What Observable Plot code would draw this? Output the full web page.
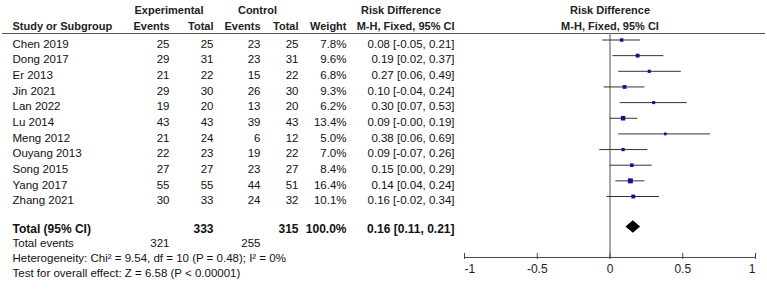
<!DOCTYPE html>
<html>
<head>
<meta charset="utf-8">
<script src="https://cdn.jsdelivr.net/npm/d3@7"></script>
<script src="https://cdn.jsdelivr.net/npm/@observablehq/plot@0.6"></script>
<style>
  html, body { margin: 0; padding: 0; background: #fff; }
</style>
</head>
<body>
<div id="chart"></div>
<script>
// ---- data ----
const studies = ["Chen 2019", "Dong 2017", "Er 2013", "Jin 2021", "Lan 2022", "Lu 2014", "Meng 2012", "Ouyang 2013", "Song 2015", "Yang 2017", "Zhang 2021"];
const expEvents = [25, 29, 21, 29, 19, 43, 21, 22, 27, 55, 30];
const expTotal = [25, 31, 22, 30, 20, 43, 24, 23, 27, 55, 33];
const ctrlEvents = [23, 23, 15, 26, 13, 39, 6, 19, 23, 44, 24];
const ctrlTotal = [25, 31, 22, 30, 20, 43, 12, 22, 27, 51, 32];
const weights = [7.8, 9.6, 6.8, 9.3, 6.2, 13.4, 5.0, 7.0, 8.4, 16.4, 10.1];
const riskDiff = [0.08, 0.19, 0.27, 0.10, 0.30, 0.09, 0.38, 0.09, 0.15, 0.14, 0.16];
const ciLow = [-0.05, 0.02, 0.06, -0.04, 0.07, -0.00, 0.06, -0.07, 0.00, 0.04, -0.02];
const ciHigh = [0.21, 0.37, 0.49, 0.24, 0.53, 0.19, 0.69, 0.26, 0.29, 0.24, 0.34];

const totalLabel = "Total (95% CI)";
const totalExp = 333;
const totalCtrl = 315;
const totalWeight = 100.0;
const totalRD = 0.16;
const totalLow = 0.11;
const totalHigh = 0.21;
const eventsLabel = "Total events";
const eventsExp = 321;
const eventsCtrl = 255;
const heterogeneityText = "Heterogeneity: Chi² = 9.54, df = 10 (P = 0.48); I² = 0%";
const overallText = "Test for overall effect: Z = 6.58 (P < 0.00001)";

const axisTicks = [-1, -0.5, 0, 0.5, 1];
const tickLabels = ["-1", "-0.5", "0", "0.5", "1"];

// ---- layout (rows in row units, columns in pixels) ----
const rowHeader1 = -2.12, rowHeader2 = -1.12, rowLine = -0.67;
const rowTotal = 11.8, rowDiamond = 11.7, rowEvents = 12.75, rowHet = 13.7, rowTest = 14.65;
const rowAxis = 13.64;
const markerDy = -4;
const colStudy = 12, colExpEv = 169, colExpTot = 213, colCtrlEv = 260, colCtrlTot = 298, colWeight = 346, colRD = 454;

const font = "Liberation Sans, Arial, Helvetica, sans-serif";
const txt = "#111";

const fmt2 = v => ((v < 0 || Object.is(v, -0)) ? "-" : "") + Math.abs(v).toFixed(2);
const ciText = (e, l, h) => `${fmt2(e)} [${fmt2(l)}, ${fmt2(h)}]`;

const idx = studies.map((_, i) => i);

function col(data, y, text, x, anchor, extra = {}) {
  return Plot.text(data, {
    y, text, frameAnchor: "left", dx: x, textAnchor: anchor,
    fill: txt, fontSize: 11.5, ...extra
  });
}
const bold = {fontWeight: "bold", fontSize: 12};
const hdr = {fontWeight: "bold", fontSize: 11, fill: "#222"};

const diamondPts = [
  {x: totalLow, y1: rowDiamond, y2: rowDiamond},
  {x: totalRD, y1: rowDiamond - 0.4, y2: rowDiamond + 0.4},
  {x: totalHigh, y1: rowDiamond, y2: rowDiamond}
];

const chart = Plot.plot({
  width: 767,
  height: 289,
  marginLeft: 0, marginRight: 0, marginTop: 0, marginBottom: 0,
  style: {fontFamily: font, background: "#fff"},
  x: {domain: [-1, 1], range: [464, 755], axis: null},
  y: {type: "linear", domain: [0, 1], range: [43.5, 59.15], axis: null},
  r: {type: "sqrt", domain: [0, 16.4], range: [0, 2.8]},
  marks: [
    // header texts
    Plot.text(["Experimental"], {y: () => rowHeader1, text: d => d, frameAnchor: "left", dx: 168.5, textAnchor: "middle", ...hdr}),
    Plot.text(["Control"], {y: () => rowHeader1, text: d => d, frameAnchor: "left", dx: 257, textAnchor: "middle", ...hdr}),
    Plot.text(["Risk Difference"], {y: () => rowHeader1, text: d => d, frameAnchor: "left", dx: 400.5, textAnchor: "middle", ...hdr}),
    Plot.text(["Risk Difference"], {x: () => 0, y: () => rowHeader1, text: d => d, textAnchor: "middle", ...hdr}),
    Plot.text(["M-H, Fixed, 95% CI"], {x: () => 0, y: () => rowHeader2, text: d => d, textAnchor: "middle", ...hdr}),
    col(["Study or Subgroup"], () => rowHeader2, d => d, colStudy, "start", hdr),
    col(["Events"], () => rowHeader2, d => d, colExpEv, "end", hdr),
    col(["Total"], () => rowHeader2, d => d, colExpTot, "end", hdr),
    col(["Events"], () => rowHeader2, d => d, colCtrlEv, "end", hdr),
    col(["Total"], () => rowHeader2, d => d, colCtrlTot, "end", hdr),
    col(["Weight"], () => rowHeader2, d => d, colWeight, "end", hdr),
    col(["M-H, Fixed, 95% CI"], () => rowHeader2, d => d, colRD, "end", hdr),

    // header rule
    Plot.ruleY([rowLine], {y: d => d, stroke: "#555", strokeWidth: 1, insetLeft: 2, insetRight: 2}),

    // zero line
    Plot.ruleX([0], {x: d => d, y1: () => rowLine, y2: () => rowAxis, stroke: "#8a8a8a", strokeWidth: 1.5}),

    // study rows
    col(idx, i => i, i => studies[i], colStudy, "start"),
    col(idx, i => i, i => expEvents[i], colExpEv, "end"),
    col(idx, i => i, i => expTotal[i], colExpTot, "end"),
    col(idx, i => i, i => ctrlEvents[i], colCtrlEv, "end"),
    col(idx, i => i, i => ctrlTotal[i], colCtrlTot, "end"),
    col(idx, i => i, i => weights[i].toFixed(1) + "%", colWeight, "end"),
    col(idx, i => i, i => ciText(riskDiff[i], ciLow[i], ciHigh[i]), colRD, "end"),

    // total row
    col([totalLabel], () => rowTotal, d => d, colStudy, "start", bold),
    col([totalExp], () => rowTotal, d => d, colExpTot, "end", bold),
    col([totalCtrl], () => rowTotal, d => d, colCtrlTot, "end", bold),
    col([totalWeight], () => rowTotal, d => d.toFixed(1) + "%", colWeight, "end", bold),
    col([ciText(totalRD, totalLow, totalHigh)], () => rowTotal, d => d, colRD, "end", bold),

    col([eventsLabel], () => rowEvents, d => d, colStudy, "start"),
    col([eventsExp], () => rowEvents, d => d, colExpEv, "end"),
    col([eventsCtrl], () => rowEvents, d => d, colCtrlEv, "end"),
    col([heterogeneityText], () => rowHet, d => d, colStudy, "start"),
    col([overallText], () => rowTest, d => d, colStudy, "start"),

    // CI lines and squares
    Plot.ruleY(idx, {x1: i => ciLow[i], x2: i => ciHigh[i], y: i => i, dy: markerDy, stroke: "#333", strokeWidth: 1}),
    Plot.dot(idx, {x: i => riskDiff[i], y: i => i, r: i => weights[i], symbol: "square", fill: "#10109a", stroke: null, dy: markerDy}),

    // diamond
    Plot.areaY(diamondPts, {x: "x", y1: "y1", y2: "y2", fill: "#000"}),

    // axis
    Plot.ruleY([{x1: axisTicks[0], x2: axisTicks[axisTicks.length - 1], y: rowAxis}], {x1: "x1", x2: "x2", y: "y", stroke: "#444"}),
    Plot.ruleX(axisTicks, {x: d => d, y1: () => rowAxis, y2: () => rowAxis, insetTop: -4, insetBottom: -2, stroke: "#444"}),
    Plot.text(axisTicks.slice(0, 1), {x: d => d, y: () => rowAxis, dy: 12, text: (d, i) => tickLabels[0], textAnchor: "start", fontSize: 12, fill: "#222"}),
    Plot.text(axisTicks.slice(1, -1), {x: d => d, y: () => rowAxis, dy: 12, text: (d, i) => tickLabels[i + 1], textAnchor: "middle", fontSize: 12, fill: "#222"}),
    Plot.text(axisTicks.slice(-1), {x: d => d, y: () => rowAxis, dy: 12, text: (d, i) => tickLabels[tickLabels.length - 1], textAnchor: "end", fontSize: 12, fill: "#222"})
  ]
});
document.getElementById("chart").appendChild(chart);
</script>
</body>
</html>
